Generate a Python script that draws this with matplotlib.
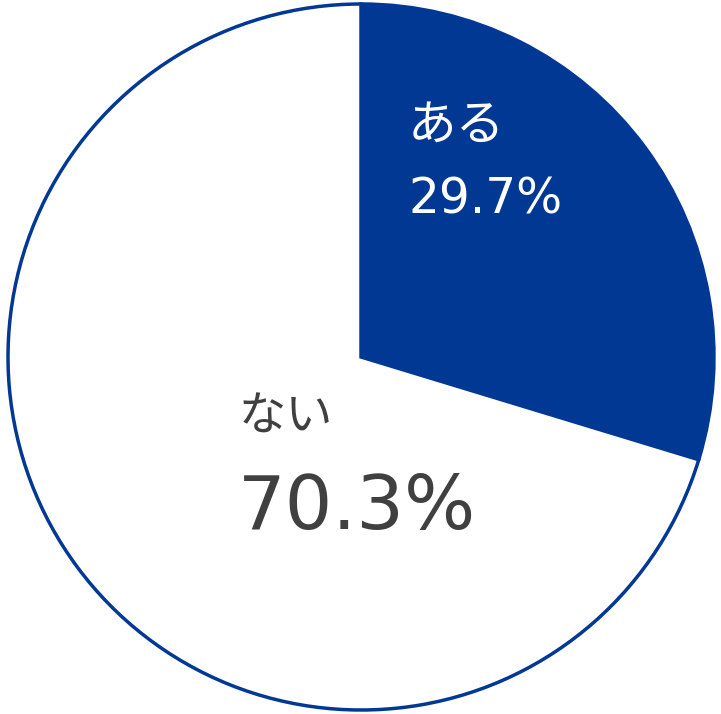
import matplotlib
matplotlib.use("Agg")
import matplotlib.pyplot as plt

labels = ["ある", "ない"]
values = [29.7, 70.3]
colors = ["#003893", "#ffffff"]
edge = "#003893"

plt.rcParams['font.family'] = ['Noto Sans CJK JP', 'DejaVu Sans']

fig = plt.figure(figsize=(7.21, 7.14), dpi=100)
ax = fig.add_axes([0, 0, 1, 1])
ax.pie(values, colors=colors, startangle=90, counterclock=False,
       center=(361, 357), radius=353,
       wedgeprops=dict(edgecolor=edge, linewidth=2.5))
ax.set_xlim(0, 721)
ax.set_ylim(0, 714)
ax.set_aspect('equal')
ax.axis('off')

# labels
ax.text(408, 714 - 126, labels[0], color="white", fontsize=35, ha='left', va='center')
ax.text(409, 714 - 199, f"{values[0]}%", color="white", fontsize=35,
        family='DejaVu Sans', ha='left', va='center')
ax.text(239, 714 - 417, labels[1], color="#404040", fontsize=34, ha='left', va='center')
ax.text(238, 714 - 508, f"{values[1]}%", color="#404040", fontsize=54,
        family='DejaVu Sans', ha='left', va='center')

fig.savefig("out.png", dpi=100)
